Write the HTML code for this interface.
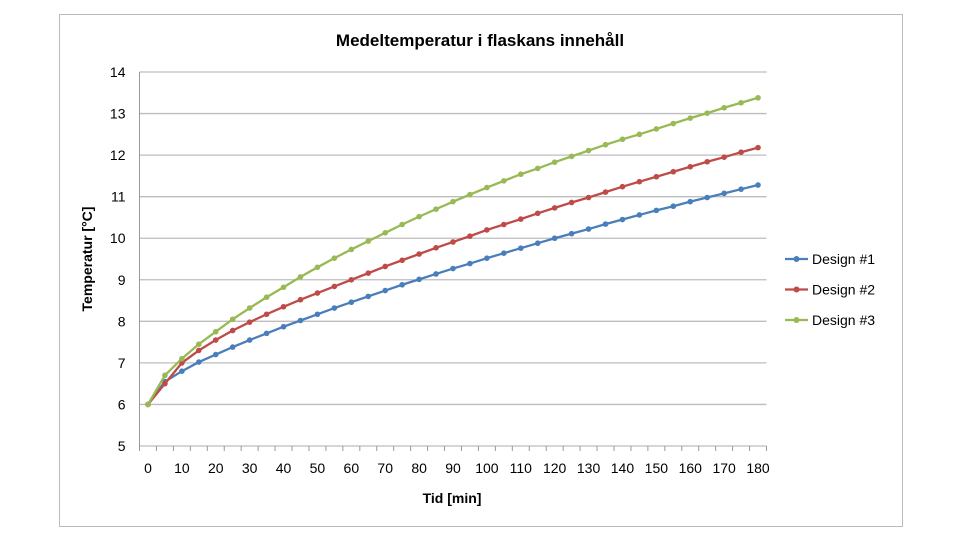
<!DOCTYPE html>
<html><head><meta charset="utf-8"><style>
body{margin:0;background:#fff;}
svg text{font-family:"Liberation Sans",sans-serif;fill:#000;}
</style></head><body>
<svg id="chart" width="960" height="542" viewBox="0 0 960 542">
<rect x="59.5" y="14.5" width="843" height="512" fill="#fff" stroke="#bbb"/>
<text x="480" y="46" text-anchor="middle" font-size="17" font-weight="bold">Medeltemperatur i flaskans innehåll</text>
<g id="grid"></g><g id="axes"></g><g id="series"></g><g id="legend"></g>
<text x="452" y="503" text-anchor="middle" font-size="14" font-weight="bold">Tid [min]</text>
<text transform="translate(92,259) rotate(-90)" text-anchor="middle" font-size="14" font-weight="bold">Temperatur [°C]</text>
</svg>
<script>
const categories=[0,5,10,15,20,25,30,35,40,45,50,55,60,65,70,75,80,85,90,95,100,105,110,115,120,125,130,135,140,145,150,155,160,165,170,175,180];
const design1=[6,6.55,6.8,7.02,7.2,7.38,7.55,7.71,7.87,8.02,8.17,8.32,8.46,8.6,8.74,8.88,9.01,9.14,9.27,9.39,9.52,9.64,9.76,9.88,10.0,10.11,10.22,10.34,10.45,10.56,10.67,10.77,10.88,10.98,11.08,11.18,11.28];
const design2=[6,6.5,7.0,7.3,7.55,7.78,7.98,8.17,8.35,8.52,8.68,8.84,9.0,9.16,9.32,9.47,9.62,9.77,9.91,10.05,10.2,10.33,10.46,10.6,10.73,10.86,10.98,11.11,11.24,11.36,11.48,11.6,11.72,11.84,11.95,12.07,12.18];
const design3=[6,6.7,7.1,7.45,7.75,8.05,8.32,8.58,8.82,9.07,9.3,9.52,9.73,9.93,10.13,10.33,10.52,10.7,10.88,11.05,11.22,11.38,11.54,11.68,11.83,11.97,12.11,12.25,12.38,12.5,12.63,12.76,12.89,13.01,13.14,13.26,13.38];
const yTicks=[5,6,7,8,9,10,11,12,13,14];
const seriesNames=["Design #1","Design #2","Design #3"];
const colors=["#4a7ebb","#be4b48","#98b954"];
const NS="http://www.w3.org/2000/svg";
const L=139.5,R=766.5,T=72,B=446,ymin=5,ymax=14;
const step=(R-L)/categories.length;
const xs=i=>L+step*(i+0.5);
const ys=v=>B-(v-ymin)/(ymax-ymin)*(B-T);
function mk(t,a,p){const e=document.createElementNS(NS,t);for(const k in a)e.setAttribute(k,a[k]);p.appendChild(e);return e;}
const grid=document.getElementById('grid'),axes=document.getElementById('axes'),ser=document.getElementById('series'),leg=document.getElementById('legend');
yTicks.forEach(v=>{
 const l=mk('line',{x1:L,x2:R,y1:ys(v),y2:ys(v),stroke:'#bdbdbd','stroke-width':1.3},grid);
 
 
 const t=mk('text',{x:L-14,y:ys(v)+5,'text-anchor':'end','font-size':14},axes);
 t.textContent=v;
 
 
});
const ya=mk('line',{x1:L,x2:L,y1:T,y2:B,stroke:'#999'},axes);


for(let i=0;i<=categories.length;i++){
 const x=L+step*i;
 const tk=mk('line',{x1:x,x2:x,y1:B,y2:B+5,stroke:'#999'},axes);
 
 
}
categories.forEach((c,i)=>{
 if(c%10!==0)return;
 const t=mk('text',{x:xs(i),y:B+27,'text-anchor':'middle','font-size':14},axes);
 t.textContent=c;
 
 
});
[design1,design2,design3].forEach((d,s)=>{
 const g=mk('g',{},ser);
 
 
 const p=mk('polyline',{points:d.map((v,i)=>xs(i)+','+ys(v)).join(' '),fill:'none',stroke:colors[s],'stroke-width':2.3},g);
 
 
 d.forEach((v,i)=>{
  const c=mk('circle',{cx:xs(i),cy:ys(v),r:2.8,fill:colors[s]},g);
  
  
 });
 const ly=259+s*30.5;
 const lg=mk('g',{},leg);
 
 
 mk('line',{x1:785,x2:808,y1:ly,y2:ly,stroke:colors[s],'stroke-width':2.3},lg);
 mk('circle',{cx:796.5,cy:ly,r:3,fill:colors[s]},lg);
 const t=mk('text',{x:812,y:ly+5,'font-size':14},lg);
 t.textContent=seriesNames[s];
});
</script>
</body></html>
